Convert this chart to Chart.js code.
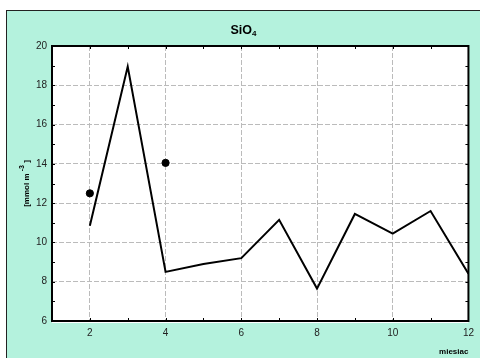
<!DOCTYPE html>
<html>
<head>
<meta charset="utf-8">
<script src="https://cdn.jsdelivr.net/npm/chart.js@4"></script>
<style>
  html, body { margin: 0; padding: 0; background: #fff; }
  #frame { position: absolute; left: 6px; top: 10px; width: 474px; height: 348px;
           border-left: 1px solid #222; border-top: 1px solid #222; background: #b4f2dd; }
  #wrap { position: absolute; left: 0; top: 0; width: 473px; height: 347px; }
</style>
</head>
<body>
<div id="frame"><div id="wrap"><canvas id="chart"></canvas></div></div>
<script>
// monthly SiO4 line
var months = [2, 3, 4, 5, 6, 7, 8, 9, 10, 11, 12];
var sio4 = [10.85, 18.95, 8.5, 8.9, 9.2, 11.15, 7.65, 11.45, 10.45, 11.6, 8.4];
// separate measured points
var dotMonths = [2, 4];
var dotValues = [12.5, 14.05];
// tick labels
var xTicks = [2, 4, 6, 8, 10, 12];
var yTicks = [6, 8, 10, 12, 14, 16, 18, 20];

var lineData = months.map(function(m, i) { return {x: m, y: sio4[i]}; });
var dotData = dotMonths.map(function(m, i) { return {x: m, y: dotValues[i]}; });

// draws text pieces in a row, each with own size and baseline shift
function drawPieces(ctx, pieces, x, y) {
  var total = 0;
  pieces.forEach(function(p) {
    ctx.font = 'bold ' + p.size + 'px "Liberation Sans"';
    p.w = ctx.measureText(p.t).width;
    total += p.w;
  });
  var cx = x - total / 2;
  pieces.forEach(function(p) {
    ctx.font = 'bold ' + p.size + 'px "Liberation Sans"';
    ctx.fillText(p.t, cx, y + p.dy);
    cx += p.w;
  });
}

// white plot area, frame, inward minor ticks, title and y label with sub/sup
var framePlugin = {
  id: 'frame',
  beforeDraw: function(chart) {
    var a = chart.chartArea, ctx = chart.ctx;
    ctx.save();
    ctx.fillStyle = '#fff';
    ctx.fillRect(a.left, a.top, a.right - a.left, a.bottom - a.top + 2);
    ctx.restore();
  },
  afterDatasetsDraw: function(chart) {
    var a = chart.chartArea, ctx = chart.ctx;
    var xs = chart.scales.x, ys = chart.scales.y;
    ctx.save();
    ctx.strokeStyle = '#000';
    ctx.lineWidth = 1;
    for (var m = 1; m <= 12; m++) {
      var px = Math.round(xs.getPixelForValue(m)) + 0.5;
      ctx.beginPath();
      ctx.moveTo(px, a.top); ctx.lineTo(px, a.top + 3);
      ctx.moveTo(px, a.bottom); ctx.lineTo(px, a.bottom - 3);
      ctx.stroke();
    }
    for (var v = 6; v <= 20; v++) {
      var py = Math.round(ys.getPixelForValue(v)) + 0.5;
      ctx.beginPath();
      ctx.moveTo(a.left, py); ctx.lineTo(a.left + 3, py);
      ctx.moveTo(a.right, py); ctx.lineTo(a.right - 3, py);
      ctx.stroke();
    }
    ctx.lineWidth = 2;
    ctx.strokeRect(a.left, a.top, a.right - a.left, a.bottom - a.top);

    // title
    ctx.fillStyle = '#000';
    ctx.textAlign = 'left';
    ctx.textBaseline = 'alphabetic';
    drawPieces(ctx, [{t: 'SiO', size: 12.5, dy: 0}, {t: '4', size: 8, dy: 2}], chart.width / 2, 23);

    // y axis label, rotated
    ctx.translate(22, (a.top + a.bottom) / 2);
    ctx.rotate(-Math.PI / 2);
    drawPieces(ctx, [{t: '[mmol m ', size: 8, dy: 0}, {t: '-3', size: 7, dy: -5}, {t: ' ]', size: 8, dy: 0}], 0, 0);
    ctx.restore();
  }
};

var ctx = document.getElementById('chart');
var chart = new Chart(ctx, {
  type: 'scatter',
  data: {
    datasets: [{
      type: 'line',
      data: lineData,
      borderColor: '#000',
      borderWidth: 2,
      fill: false,
      tension: 0,
      pointRadius: 0
    }, {
      data: dotData,
      backgroundColor: '#000',
      borderColor: '#000',
      pointRadius: 3.6,
      pointHoverRadius: 3.6
    }]
  },
  options: {
    responsive: true,
    maintainAspectRatio: false,
    animation: false,
    events: [],
    layout: { padding: { left: 0, right: 10, top: 35, bottom: 0 } },
    plugins: {
      legend: { display: false },
      tooltip: { enabled: false },
      title: { display: false }
    },
    scales: {
      x: {
        type: 'linear',
        min: 1,
        max: 12,
        afterBuildTicks: function(s) { s.ticks = xTicks.map(function(v) { return {value: v}; }); },
        afterFit: function(s) { s.height = 37; },
        grid: { color: '#bbb', lineWidth: 1, drawTicks: false },
        border: { display: false, dash: [5, 2] },
        ticks: { color: '#222', padding: 6, maxRotation: 0,
                 font: { family: 'Liberation Sans', size: 10 } },
        title: { display: true, text: 'miesiac', align: 'end', color: '#000',
                 font: { family: 'Liberation Sans', size: 8, weight: 'bold' },
                 padding: { top: 0, bottom: 1 } }
      },
      y: {
        min: 6,
        max: 20,
        afterBuildTicks: function(s) { s.ticks = yTicks.map(function(v) { return {value: v}; }); },
        afterFit: function(s) { s.width = 45; },
        grid: { color: '#bbb', lineWidth: 1, drawTicks: false },
        border: { display: false, dash: [5, 2] },
        ticks: { color: '#222', padding: 5,
                 font: { family: 'Liberation Sans', size: 10 } },
        title: { display: false }
      }
    }
  },
  plugins: [framePlugin]
});
</script>
</body>
</html>
